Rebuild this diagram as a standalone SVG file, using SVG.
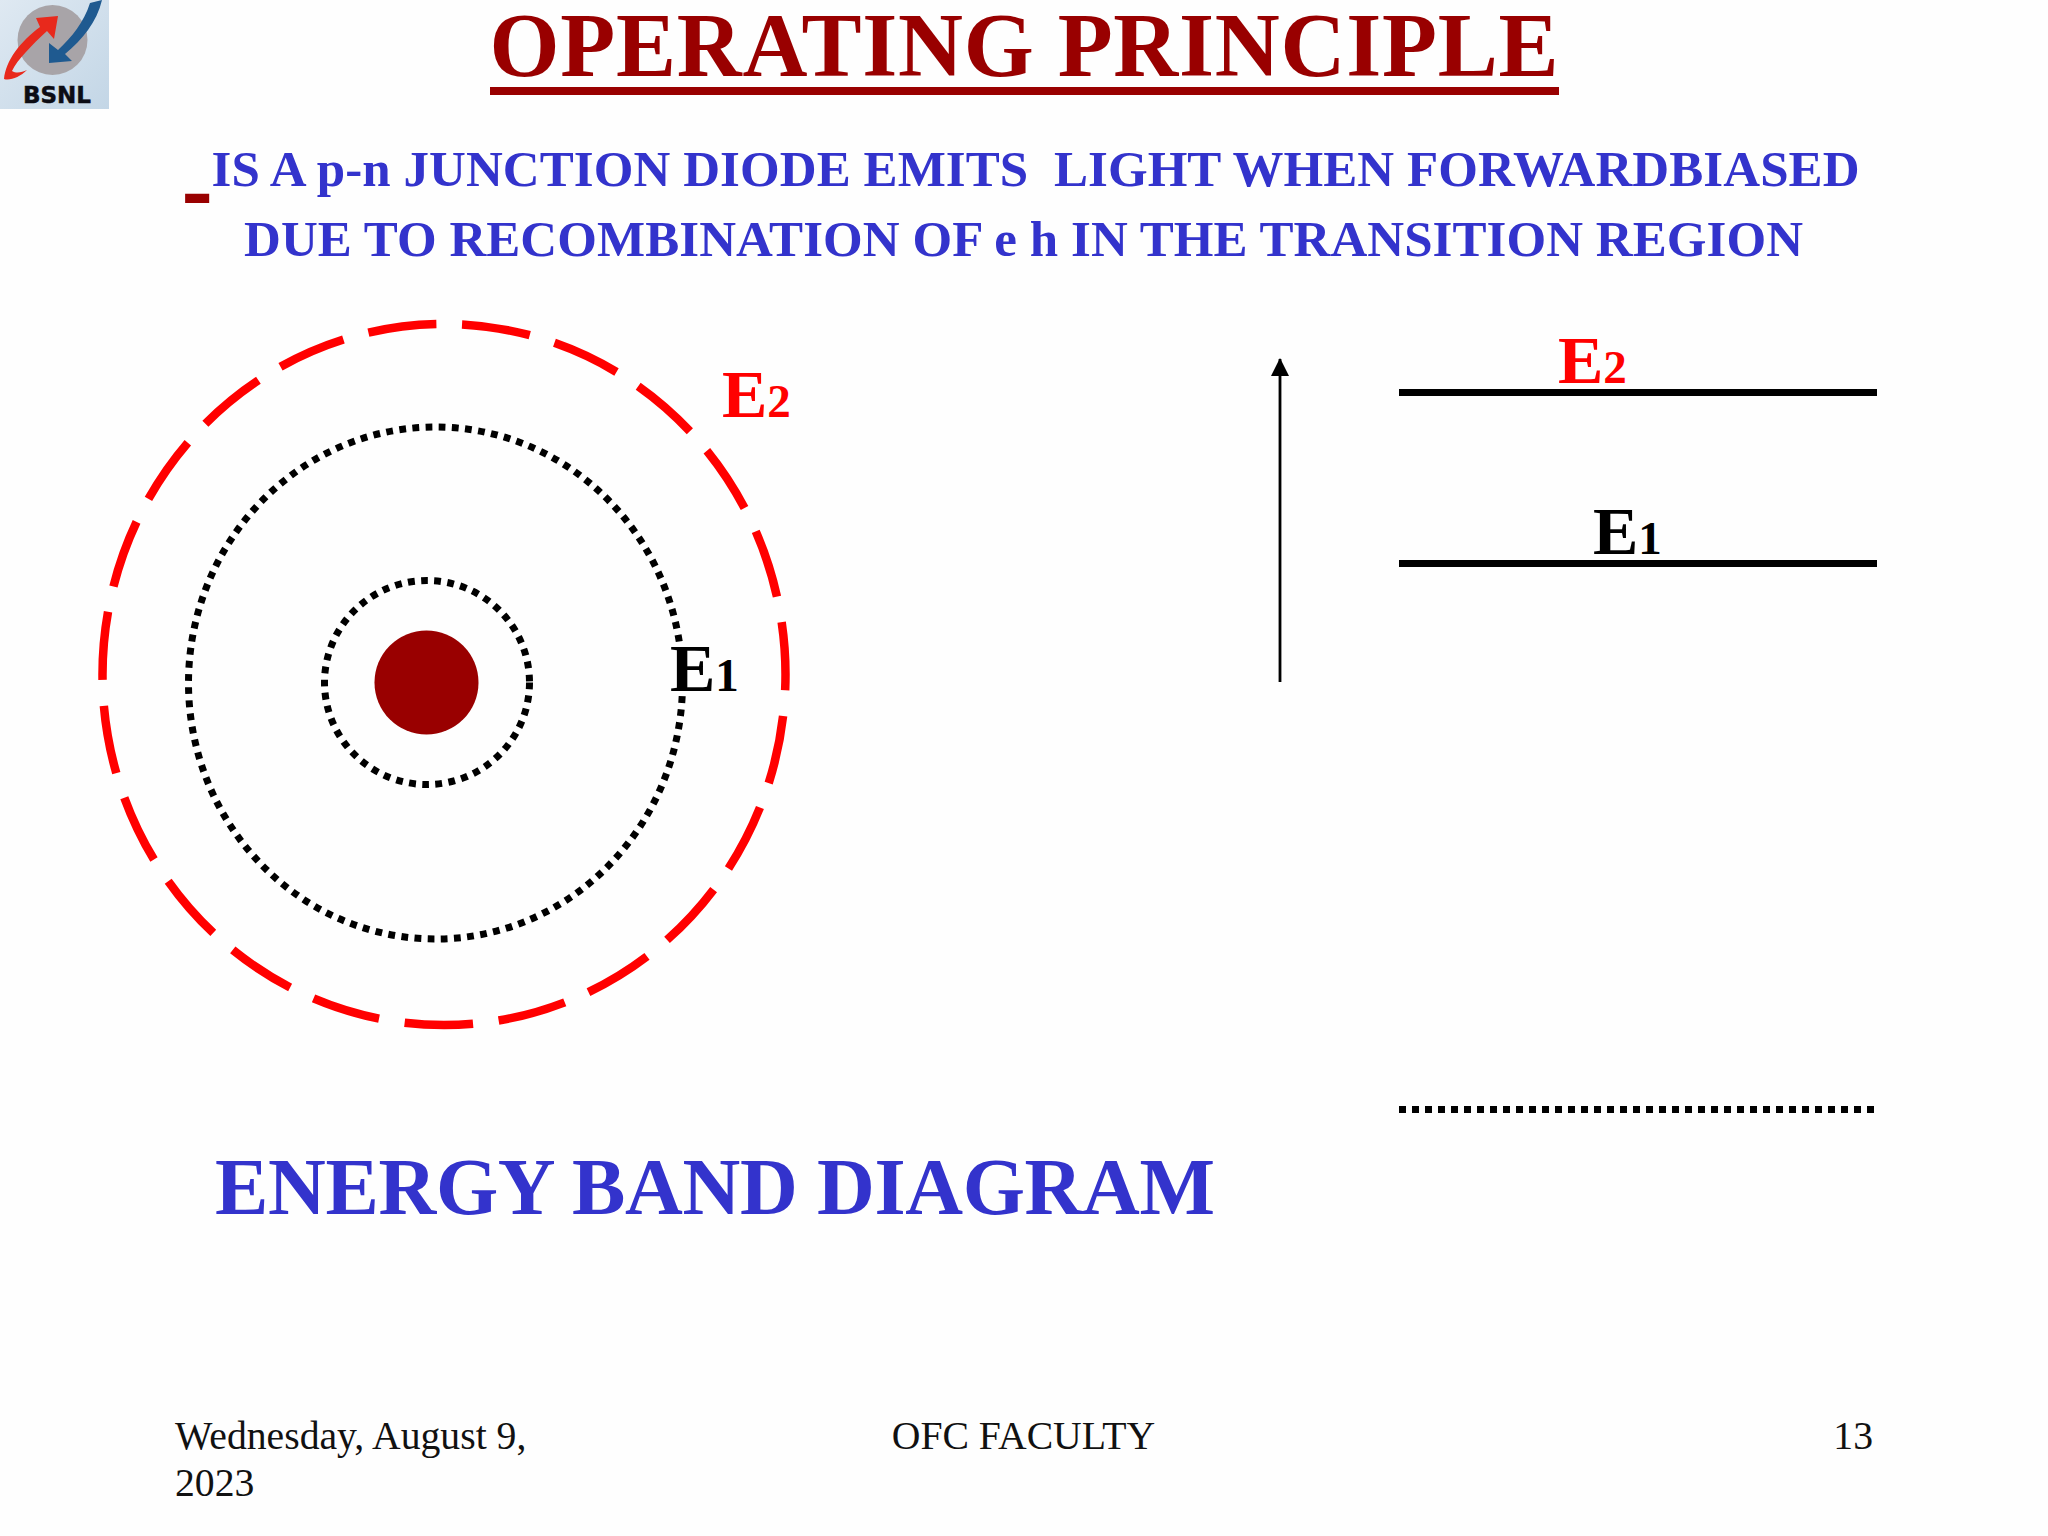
<svg xmlns="http://www.w3.org/2000/svg" width="2048" height="1536" viewBox="0 0 2048 1536">
<style>
text{font-family:"Liberation Serif","Times New Roman",serif}
.b{font-weight:bold}
.blue{fill:#3333cc}
.red{fill:#ff0000}
.blk{fill:#000}
.sub{font-size:51px}
.foot{font-size:39.7px;fill:#111}
.e{font-size:68px;font-weight:bold}
.d{font-size:47px}
.orb{fill:none;stroke:#000;stroke-width:7}
.lvl{stroke:#000;stroke-width:7}
</style>
<defs>
<linearGradient id="lg" x1="0" y1="0" x2="1" y2="1"><stop offset="0" stop-color="#dfe9f2"/><stop offset="1" stop-color="#c3d6e6"/></linearGradient>
<marker id="ah" markerUnits="userSpaceOnUse" markerWidth="18" markerHeight="20" refX="17" refY="9" orient="auto"><path d="M0 0L18 9L0 18Z" fill="#000"/></marker>
</defs>
<rect width="2048" height="1536" fill="#fefefe"/>
<g id="logo">
<rect width="109" height="109" fill="url(#lg)"/>
<circle cx="52.5" cy="40" r="35" fill="#a8a4a8"/>
<path d="M4 79C6 60 20 42 40 27L36 18L58 16L54 39L47 31C32 45 17 60 12 71C17 74 22 72 27 70C20 77 10 81 4 79Z" fill="#e8291c"/>
<path d="M49 43L49 63L72 61L65 54C82 40 97 22 102 0L90 3C84 22 72 37 58 50Z" fill="#1f5a90"/>
<text x="23" y="103" font-size="23" font-weight="bold" style="font-family:'DejaVu Sans',sans-serif" fill="#0c0c14" stroke="#0c0c14" stroke-width=".5" textLength="68">BSNL</text>
</g>
<g id="title">
<text class="b" x="489.5" y="76" font-size="90" fill="#990000" textLength="1069">OPERATING PRINCIPLE</text>
<rect x="490" y="87" width="1069" height="8" fill="#990000"/>
</g>
<g id="subtitle">
<text class="b" x="183" y="218" font-size="85" fill="#990000" stroke="#990000" stroke-width="2">-</text>
<text class="b blue sub" x="211.5" y="186" xml:space="preserve" textLength="1648">IS A p-n JUNCTION DIODE EMITS  LIGHT WHEN FORWARDBIASED</text>
<text class="b blue sub" x="244" y="256" textLength="1559">DUE TO RECOMBINATION OF e h IN THE TRANSITION REGION</text>
</g>
<g id="atom">
<ellipse cx="444" cy="674.5" rx="341.5" ry="350.5" fill="none" stroke="#ff0000" stroke-width="8.5" pathLength="2185" stroke-dasharray="69 26" stroke-dashoffset="53"/>
<ellipse class="orb" cx="435.5" cy="683" rx="247" ry="256" stroke-dasharray="6.8 6.4"/>
<ellipse class="orb" cx="427" cy="682.5" rx="102.5" ry="102" stroke-dasharray="6.8 6.4"/>
<circle cx="426.5" cy="682.5" r="52" fill="#990000"/>
<text class="e red" x="722" y="417">E<tspan class="d">2</tspan></text>
<text class="e blk" x="670" y="691">E<tspan class="d">1</tspan></text>
</g>
<g id="connectors">
<line x1="1280" y1="682" x2="1280" y2="359" stroke="#000" stroke-width="2.8" marker-end="url(#ah)"/>
</g>
<g id="level-e2">
<line class="lvl" x1="1399" y1="392.5" x2="1877" y2="392.5"/>
<text class="e red" x="1558" y="383">E<tspan class="d">2</tspan></text>
</g>
<g id="level-e1">
<line class="lvl" x1="1399" y1="563.5" x2="1877" y2="563.5"/>
<text class="e blk" x="1593" y="554">E<tspan class="d">1</tspan></text>
</g>
<g id="level-dotted">
<line class="lvl" x1="1399" y1="1109.5" x2="1875" y2="1109.5" stroke-dasharray="7 6"/>
</g>
<g id="caption">
<text class="b blue" x="215" y="1214" font-size="80" textLength="1000">ENERGY BAND DIAGRAM</text>
</g>
<g id="footer">
<text class="foot" x="175" y="1449">Wednesday, August 9,</text>
<text class="foot" x="175" y="1496">2023</text>
<text class="foot" x="1023.5" y="1449" text-anchor="middle">OFC FACULTY</text>
<text class="foot" x="1873" y="1449" text-anchor="end">13</text>
</g>
</svg>
